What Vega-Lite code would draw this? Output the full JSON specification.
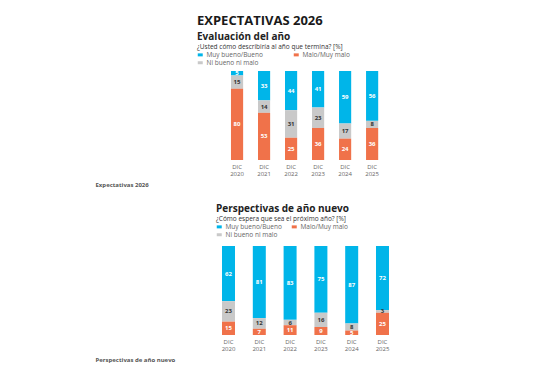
{
  "$schema": "https://vega.github.io/schema/vega-lite/v6.json",
  "padding": {"left": 95, "top": 15, "right": 5, "bottom": 5},
  "background": "white",
  "config": {
    "font": "Open Sans",
    "view": {"stroke": null},
    "axis": {"grid": false}
  },
  "datasets": {
    "eval": [
      {"year": "2020", "cat": "Muy bueno/Bueno", "pct": 5},
      {"year": "2020", "cat": "Ni bueno ni malo", "pct": 15},
      {"year": "2020", "cat": "Malo/Muy malo", "pct": 80},
      {"year": "2021", "cat": "Muy bueno/Bueno", "pct": 33},
      {"year": "2021", "cat": "Ni bueno ni malo", "pct": 14},
      {"year": "2021", "cat": "Malo/Muy malo", "pct": 53},
      {"year": "2022", "cat": "Muy bueno/Bueno", "pct": 44},
      {"year": "2022", "cat": "Ni bueno ni malo", "pct": 31},
      {"year": "2022", "cat": "Malo/Muy malo", "pct": 25},
      {"year": "2023", "cat": "Muy bueno/Bueno", "pct": 41},
      {"year": "2023", "cat": "Ni bueno ni malo", "pct": 23},
      {"year": "2023", "cat": "Malo/Muy malo", "pct": 36},
      {"year": "2024", "cat": "Muy bueno/Bueno", "pct": 59},
      {"year": "2024", "cat": "Ni bueno ni malo", "pct": 17},
      {"year": "2024", "cat": "Malo/Muy malo", "pct": 24},
      {"year": "2025", "cat": "Muy bueno/Bueno", "pct": 56},
      {"year": "2025", "cat": "Ni bueno ni malo", "pct": 8},
      {"year": "2025", "cat": "Malo/Muy malo", "pct": 36}
    ],
    "persp": [
      {"year": "2020", "cat": "Muy bueno/Bueno", "pct": 62},
      {"year": "2020", "cat": "Ni bueno ni malo", "pct": 23},
      {"year": "2020", "cat": "Malo/Muy malo", "pct": 15},
      {"year": "2021", "cat": "Muy bueno/Bueno", "pct": 81},
      {"year": "2021", "cat": "Ni bueno ni malo", "pct": 12},
      {"year": "2021", "cat": "Malo/Muy malo", "pct": 7},
      {"year": "2022", "cat": "Muy bueno/Bueno", "pct": 83},
      {"year": "2022", "cat": "Ni bueno ni malo", "pct": 6},
      {"year": "2022", "cat": "Malo/Muy malo", "pct": 11},
      {"year": "2023", "cat": "Muy bueno/Bueno", "pct": 75},
      {"year": "2023", "cat": "Ni bueno ni malo", "pct": 16},
      {"year": "2023", "cat": "Malo/Muy malo", "pct": 9},
      {"year": "2024", "cat": "Muy bueno/Bueno", "pct": 87},
      {"year": "2024", "cat": "Ni bueno ni malo", "pct": 8},
      {"year": "2024", "cat": "Malo/Muy malo", "pct": 5},
      {"year": "2025", "cat": "Muy bueno/Bueno", "pct": 72},
      {"year": "2025", "cat": "Ni bueno ni malo", "pct": 3},
      {"year": "2025", "cat": "Malo/Muy malo", "pct": 25}
    ]
  },
  "title": {
    "text": "EXPECTATIVAS 2026",
    "anchor": "start",
    "frame": "group",
    "dx": -17,
    "fontSize": 13,
    "fontWeight": "bold",
    "color": "#1a1a1a",
    "offset": 4
  },
  "spacing": 17,
  "resolve": {"scale": {"color": "independent", "x": "independent"}, "legend": {"color": "independent"}},
  "vconcat": [
    {
      "width": 171,
      "height": 89,
      "data": {"name": "eval"},
      "transform": [
        {"calculate": "indexof(['Malo/Muy malo', 'Ni bueno ni malo', 'Muy bueno/Bueno'], datum.cat)", "as": "stackRank"}
      ],
      "title": {
        "text": "Evaluación del año",
        "anchor": "start",
        "frame": "group",
        "dx": -17,
        "fontSize": 10,
        "fontWeight": "bold",
        "color": "#222",
        "offset": 2
      },
      "resolve": {"scale": {"color": "independent"}},
      "encoding": {
        "x": {
          "field": "year",
          "type": "nominal",
          "scale": {"paddingInner": 0.55, "paddingOuter": 0.44, "align": 0.714, "round": false},
          "axis": {
            "labelExpr": "['DIC', datum.label]",
            "labelAngle": 0,
            "labelFontSize": 6,
            "labelColor": "#666",
            "labelLineHeight": 7,
            "labelPadding": 3,
            "domain": false,
            "ticks": false,
            "title": "Expectativas 2026",
            "titleX": -119,
            "titleY": 21,
            "titleAlign": "left",
            "titleBaseline": "top",
            "titleFontSize": 6,
            "titleFontWeight": "bold",
            "titleColor": "#555"
          }
        },
        "y": {"field": "pct", "type": "quantitative", "stack": "zero", "scale": {"domain": [0, 100], "nice": false}, "axis": null},
        "order": {"field": "stackRank", "type": "quantitative", "sort": "ascending"}
      },
      "layer": [
        {
          "mark": {"type": "bar"},
          "encoding": {
            "color": {
              "field": "cat",
              "type": "nominal",
              "scale": {"domain": ["Muy bueno/Bueno", "Malo/Muy malo", "Ni bueno ni malo"], "range": ["#00B5E9", "#F0724A", "#C9C9C9"]},
              "legend": {
                "title": "¿Usted cómo describiría al año que termina? [%]",
                "orient": "none",
                "legendX": -17,
                "legendY": -27,
                "direction": "horizontal",
                "columns": 2,
                "columnPadding": 30,
                "rowPadding": 1,
                "titleFontSize": 6.5,
                "titleFontWeight": "normal",
                "titleColor": "#333",
                "titlePadding": 1,
                "labelFontSize": 6.5,
                "labelColor": "#666",
                "labelOffset": 3,
                "symbolType": "M-1,-0.6H1V0.6H-1Z",
                "symbolSize": 25,
                "symbolStrokeWidth": 0
              }
            }
          }
        },
        {
          "mark": {"type": "text", "fontSize": 6, "fontWeight": "bold"},
          "encoding": {
            "y": {"field": "pct", "type": "quantitative", "stack": "zero", "bandPosition": 0.5},
            "text": {"field": "pct", "type": "quantitative"},
            "color": {
              "field": "cat",
              "type": "nominal",
              "scale": {"domain": ["Muy bueno/Bueno", "Malo/Muy malo", "Ni bueno ni malo"], "range": ["#ffffff", "#ffffff", "#333333"]},
              "legend": null
            }
          }
        }
      ]
    },
    {
      "width": 183,
      "height": 89,
      "data": {"name": "persp"},
      "transform": [
        {"calculate": "indexof(['Malo/Muy malo', 'Ni bueno ni malo', 'Muy bueno/Bueno'], datum.cat)", "as": "stackRank"}
      ],
      "title": {
        "text": "Perspectivas de año nuevo",
        "anchor": "start",
        "frame": "group",
        "dx": 2,
        "fontSize": 10,
        "fontWeight": "bold",
        "color": "#222",
        "offset": 2
      },
      "resolve": {"scale": {"color": "independent"}},
      "encoding": {
        "x": {
          "field": "year",
          "type": "nominal",
          "scale": {"paddingInner": 0.578, "paddingOuter": 0.26, "align": 0.5, "round": false},
          "axis": {
            "labelExpr": "['DIC', datum.label]",
            "labelAngle": 0,
            "labelFontSize": 6,
            "labelColor": "#666",
            "labelLineHeight": 7,
            "labelPadding": 3,
            "domain": false,
            "ticks": false,
            "title": "Perspectivas de año nuevo",
            "titleX": -119,
            "titleY": 21,
            "titleAlign": "left",
            "titleBaseline": "top",
            "titleFontSize": 6,
            "titleFontWeight": "bold",
            "titleColor": "#555"
          }
        },
        "y": {"field": "pct", "type": "quantitative", "stack": "zero", "scale": {"domain": [0, 100], "nice": false}, "axis": null},
        "order": {"field": "stackRank", "type": "quantitative", "sort": "ascending"}
      },
      "layer": [
        {
          "mark": {"type": "bar"},
          "encoding": {
            "color": {
              "field": "cat",
              "type": "nominal",
              "scale": {"domain": ["Muy bueno/Bueno", "Malo/Muy malo", "Ni bueno ni malo"], "range": ["#00B5E9", "#F0724A", "#C9C9C9"]},
              "legend": {
                "title": "¿Cómo espera que sea el próximo año? [%]",
                "orient": "none",
                "legendX": 2,
                "legendY": -30,
                "direction": "horizontal",
                "columns": 2,
                "columnPadding": 9,
                "rowPadding": 1,
                "titleFontSize": 6.5,
                "titleFontWeight": "normal",
                "titleColor": "#333",
                "titlePadding": 1,
                "labelFontSize": 6.5,
                "labelColor": "#666",
                "labelOffset": 3,
                "symbolType": "M-1,-0.6H1V0.6H-1Z",
                "symbolSize": 25,
                "symbolStrokeWidth": 0
              }
            }
          }
        },
        {
          "mark": {"type": "text", "fontSize": 6, "fontWeight": "bold"},
          "encoding": {
            "y": {"field": "pct", "type": "quantitative", "stack": "zero", "bandPosition": 0.5},
            "text": {"field": "pct", "type": "quantitative"},
            "color": {
              "field": "cat",
              "type": "nominal",
              "scale": {"domain": ["Muy bueno/Bueno", "Malo/Muy malo", "Ni bueno ni malo"], "range": ["#ffffff", "#ffffff", "#333333"]},
              "legend": null
            }
          }
        }
      ]
    }
  ]
}
